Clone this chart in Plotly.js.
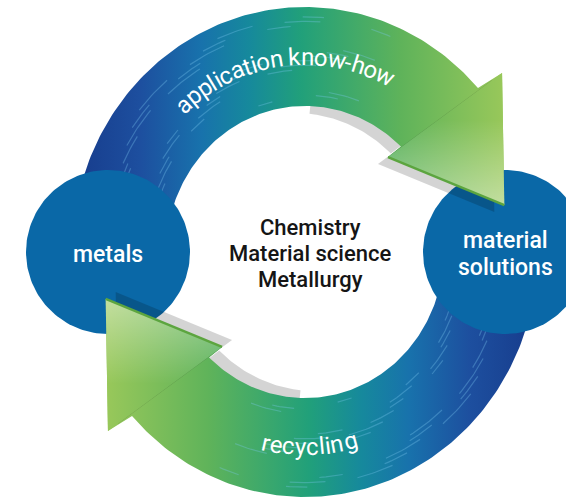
<!DOCTYPE html>
<html><head><meta charset="utf-8">
<script src="https://cdn.plot.ly/plotly-3.0.1.min.js"></script>
<style>html,body{margin:0;padding:0;background:#fff;}#chart{width:566px;height:498px;}</style>
</head><body><div id="chart"></div>
<script>
// ---------------- data ----------------
const nodeLabels = [['metals'], ['material', 'solutions']];
const flowLabels = ['application know-how', 'recycling'];
const centerLines = ['Chemistry', 'Material science', 'Metallurgy'];

// ---------------- geometry / style ----------------
const W = 566, H = 498;
const C = {x: 305, y: 252};
const KX = 0.95;
const RO = 245, RI = 146;
const deg = Math.PI / 180;
const T_TAIL = 192, T_BO = 42, T_BI = 46.3;
const BARB_O = [274, 40.8], TIP = [215, 12.6], BARB_I = [129, 47.4];
const SH = [-10, 7];
const NODE_R = 82, NODE_C = [[108, 252], [505, 252]];
const NODE_COLOR = '#0a68a7';
const TEXT_R = 195;

function ringPt(r, t) { return [C.x + KX * r * Math.cos(t * deg), C.y - r * Math.sin(t * deg)]; }
function flip(p) { return [2 * C.x - p[0], 2 * C.y - p[1]]; }
function arc(r, t0, t1, step) {
  const pts = []; const n = Math.max(1, Math.ceil(Math.abs(t1 - t0) / step));
  for (let i = 0; i <= n; i++) pts.push(ringPt(r, t0 + (t1 - t0) * i / n));
  return pts;
}
function off(pts, d) { return pts.map(p => [p[0] + d[0], p[1] + d[1]]); }
function poly(pts, extra) {
  return Object.assign({type: 'scatter', mode: 'lines', x: pts.map(p => p[0]), y: pts.map(p => p[1]),
    fill: 'toself', line: {width: 0, color: 'rgba(0,0,0,0)'}, hoverinfo: 'skip'}, extra);
}

const headTop = [ringPt(...BARB_O), ringPt(...TIP), ringPt(...BARB_I)];
const arrowTop = [...arc(RO, T_TAIL, T_BO, 1), ...headTop, ...arc(RI, T_BI, T_TAIL, 1)];
const shaftEndTop = [...arc(RO, 84, T_BO, 1), ...arc(RI, T_BI, 84, 1)];
const headBot = headTop.map(flip), arrowBot = arrowTop.map(flip), shaftEndBot = shaftEndTop.map(flip);

const gradTop = {type: 'horizontal', start: 75, stop: 510, colorscale: [
  [0, '#173c8c'], [0.15, '#1d4f9f'], [0.29, '#1872ac'], [0.4, '#16899c'], [0.52, '#21a07a'], [0.75, '#5fb35a'], [1, '#9cc95a']]};
const gradBot = {type: 'horizontal', start: 2 * C.x - 510, stop: 2 * C.x - 75,
  colorscale: gradTop.colorscale.map(s => [1 - s[0], s[1]]).reverse()};

function streaks(n, flipIt) {
  const xs = [], ys = [];
  for (let i = 0; i < n; i++) {
    const fr = (i * 0.6180339887) % 1, ft = (i * 0.7548776662 + 0.3) % 1, fl = (i * 0.5698402910 + 0.1) % 1;
    const r = RI + 8 + fr * (RO - RI - 16);
    const ts = 72 + ft * 122;
    let pts = arc(r, ts, ts - (5 + fl * 7), 1);
    if (flipIt) pts = pts.map(flip);
    pts.forEach(p => { xs.push(p[0]); ys.push(p[1]); });
    xs.push(null); ys.push(null);
  }
  return {type: 'scatter', mode: 'lines', x: xs, y: ys, line: {color: 'rgba(125,200,240,0.33)', width: 1.2}, hoverinfo: 'skip'};
}
function circlePts(c, r) { const p = []; for (let a = 0; a <= 360; a += 2) p.push([c[0] + r * Math.cos(a * deg), c[1] + r * Math.sin(a * deg)]); return p; }

const shadowCol = 'rgba(0,0,0,0.17)';
const traces = [
  poly(off(shaftEndTop, SH), {fillcolor: shadowCol}),
  poly(off(shaftEndBot, [-SH[0], -SH[1]]), {fillcolor: shadowCol}),
  poly(arrowTop, {fillgradient: gradTop}),
  poly(arrowBot, {fillgradient: gradBot}),
  streaks(45, false),
  streaks(45, true),
  ...NODE_C.map(c => poly(circlePts(c, NODE_R), {fillcolor: NODE_COLOR})),
  poly(off(headTop, SH), {fillcolor: shadowCol}),
  poly(off(headBot, [-SH[0], -SH[1]]), {fillcolor: shadowCol}),
  poly(headTop, {fillgradient: gradTop}),
  poly(headBot, {fillgradient: gradBot}),
  poly(headTop, {fillgradient: {type: 'vertical', start: 120, stop: 205, colorscale: [[0, 'rgba(255,255,255,0)'], [1, 'rgba(255,255,255,0.42)']]}}),
  poly(headBot, {fillgradient: {type: 'vertical', start: 2 * C.y - 205, stop: 2 * C.y - 120, colorscale: [[0, 'rgba(255,255,255,0.42)'], [1, 'rgba(255,255,255,0)']]}}),
  {type: 'scatter', mode: 'lines', x: [headTop[2][0], headTop[1][0]], y: [headTop[2][1], headTop[1][1]], line: {color: '#5ca53f', width: 2.5}, hoverinfo: 'skip'},
  {type: 'scatter', mode: 'lines', x: [headBot[2][0], headBot[1][0]], y: [headBot[2][1], headBot[1][1]], line: {color: '#5ca53f', width: 2.5}, hoverinfo: 'skip'}
];

// ---------------- curved text ----------------
const ctx = document.createElement('canvas').getContext('2d');
const RING_FONT = {family: 'Roboto', size: 24, color: '#ffffff'};
function centersOf(str, f) {
  ctx.font = f.size + 'px ' + f.family;
  const out = []; const chars = [...str];
  for (let i = 0; i < chars.length; i++) {
    const a = ctx.measureText(chars.slice(0, i).join('')).width, b = ctx.measureText(chars.slice(0, i + 1).join('')).width;
    out.push((a + b) / 2);
  }
  return {chars, centers: out, total: ctx.measureText(str).width};
}
function tAt(r, tMid, s) {
  const dir = s >= 0 ? 1 : -1; let t = tMid, acc = 0; const dt = 0.02;
  while (acc < Math.abs(s)) {
    const sp = r * Math.sqrt(Math.pow(KX * Math.sin(t * deg), 2) + Math.pow(Math.cos(t * deg), 2)) * deg * dt;
    acc += sp; t += dir * dt;
  }
  return t;
}
const annotations = [];
function curved(str, tMid, outward) {
  const m = centersOf(str, RING_FONT);
  m.chars.forEach((ch, i) => {
    if (ch === ' ') return;
    const s = m.centers[i] - m.total / 2;
    const t = tAt(TEXT_R, tMid, outward ? -s : s);
    const p = ringPt(TEXT_R, t);
    const ang = outward ? Math.atan2(Math.cos(t * deg), KX * Math.sin(t * deg)) / deg
                        : Math.atan2(-Math.cos(t * deg), -KX * Math.sin(t * deg)) / deg;
    annotations.push({x: p[0], y: p[1], xref: 'x', yref: 'y', text: ch, showarrow: false, textangle: ang,
      xanchor: 'center', yanchor: 'middle', font: RING_FONT});
  });
}
curved(flowLabels[0], 97.4, true);
curved(flowLabels[1], -88.6, false);

const NODE_FONT = {family: 'Roboto', size: 23, color: '#ffffff', weight: 500};
const LINE_H = 27;
nodeLabels.forEach((lines, k) => {
  lines.forEach((ln, j) => {
    annotations.push({x: NODE_C[k][0], y: NODE_C[k][1] + 2 + (j - (lines.length - 1) / 2) * LINE_H, xref: 'x', yref: 'y',
      text: ln, showarrow: false, xanchor: 'center', yanchor: 'middle', font: NODE_FONT});
  });
});
const CENTER_FONT = {family: 'Roboto', size: 22, color: '#151515', weight: 500};
centerLines.forEach((ln, j) => {
  annotations.push({x: 310, y: 253 + (j - 1) * 26, xref: 'x', yref: 'y', text: ln, showarrow: false,
    xanchor: 'center', yanchor: 'middle', font: CENTER_FONT});
});

const layout = {width: W, height: H, margin: {l: 0, r: 0, t: 0, b: 0}, paper_bgcolor: '#ffffff', plot_bgcolor: '#ffffff',
  xaxis: {range: [0, W], visible: false, fixedrange: true}, yaxis: {range: [H, 0], visible: false, fixedrange: true},
  showlegend: false, annotations};
Plotly.newPlot('chart', traces, layout, {staticPlot: true, displayModeBar: false});
</script></body></html>
